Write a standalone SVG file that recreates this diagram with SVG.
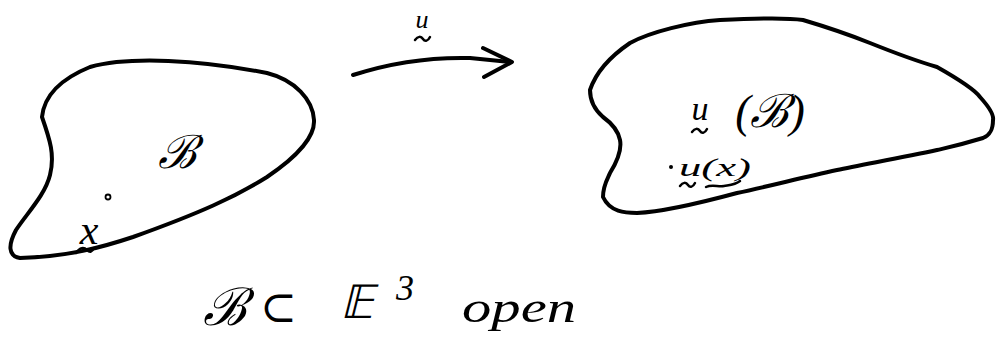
<svg xmlns="http://www.w3.org/2000/svg" width="997" height="341" viewBox="0 0 997 341">
<style>
.ink{fill:none;stroke:#000;stroke-width:4;stroke-linecap:round;stroke-linejoin:round}
.thin{fill:none;stroke:#000;stroke-width:2.5;stroke-linecap:round}
.hw{font-family:"Liberation Serif","DejaVu Serif",serif;font-style:italic;fill:#000}
</style>
<rect width="997" height="341" fill="#fff"/>
<g id="body-B">
<path class="ink" d="M42,117 C44,97 58,80 90,67 C130,56 200,60 267,73 C295,80 313,100 314,120 C315,135 300,155 267,177 C235,197 200,213 133,237 C100,248 70,256 20,258 C8,256 8,245 16,230 C28,212 45,195 50,175 C55,155 50,140 42,117 Z"/>
<text class="hw" x="177" y="168" font-size="46" text-anchor="middle">ℬ</text>
<circle cx="108" cy="197" r="2.5" fill="none" stroke="#000" stroke-width="1.8"/>
<text class="hw" x="89" y="244" font-size="42" text-anchor="middle">x</text>
<path class="thin" d="M76,253 C80,247 84,247 87,250 C90,253 92,252 94,248"/>
</g>
<g id="connectors">
<path class="ink" d="M353,75 C390,63 430,57 470,58 L510,62"/>
<path class="ink" d="M483,48 L512,62 L484,77"/>
<text class="hw" x="422" y="28" font-size="26" text-anchor="middle">u</text>
<path class="thin" d="M415,40 C418,36 421,36 423,39 C425,42 428,41 430,37"/>
</g>
<g id="image-uB">
<path class="ink" d="M590,90 C595,75 605,60 630,43 C650,32 690,22 720,20 C760,18 790,18 803,20 C830,28 850,35 870,43 C900,55 920,62 937,67 C960,80 975,90 980,97 C990,108 994,115 993,120 C993,130 990,135 983,138 C960,145 950,147 937,150 C900,158 860,165 837,170 C800,178 770,186 737,193 C700,203 660,212 637,213 C625,213 610,212 603,197 C603,185 608,178 610,173 C618,160 622,150 620,140 C618,130 610,122 603,117 C595,110 590,100 590,90 Z"/>
<text class="hw" x="700" y="120" font-size="34" text-anchor="middle">u</text>
<path class="thin" d="M692,132 C695,128 698,128 700,131 C702,134 705,133 707,129"/>
<text class="hw" x="770" y="127" font-size="46" text-anchor="middle">(ℬ)</text>
<circle cx="671" cy="167" r="2" fill="#000"/>
<text class="hw" x="679" y="176" font-size="26" textLength="72" lengthAdjust="spacingAndGlyphs">u(x)</text>
<path class="thin" d="M680,186 C683,182 686,182 688,185 C690,188 693,187 695,183"/>
<path class="thin" d="M706,187 C712,184 718,187 724,186 C730,185 735,185 740,181"/>
</g>
<g id="caption">
<text class="hw" x="203" y="325" font-size="52">ℬ</text>
<text class="hw" x="260" y="322" font-size="44">⊂</text>
<text class="hw" x="340" y="318" font-size="46">𝔼</text>
<text class="hw" x="396" y="300" font-size="36">3</text>
<text class="hw" x="462" y="322" font-size="44" textLength="114" lengthAdjust="spacingAndGlyphs">open</text>
</g>
</svg>
